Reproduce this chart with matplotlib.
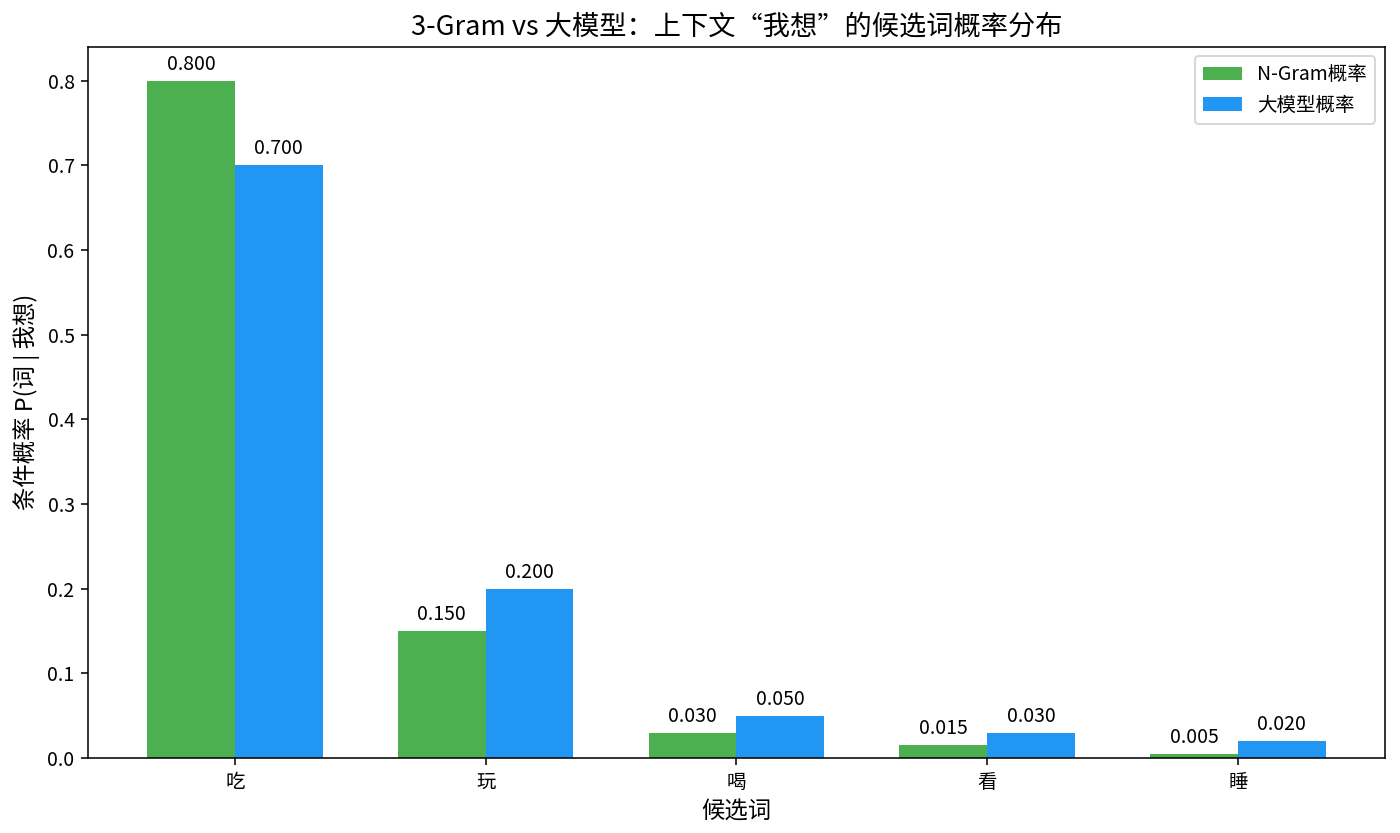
import numpy as np
import matplotlib
matplotlib.use("Agg")
import matplotlib.pyplot as plt

plt.rcParams['font.family'] = ['Noto Sans CJK SC', 'DejaVu Sans']
plt.rcParams['axes.unicode_minus'] = False

# data
candidates = ["吃", "玩", "喝", "看", "睡"]
ngram_prob = [0.800, 0.150, 0.030, 0.015, 0.005]
llm_prob = [0.700, 0.200, 0.050, 0.030, 0.020]

x = np.arange(len(candidates))
width = 0.35

fig, ax = plt.subplots(figsize=(10, 5.95), dpi=140)
bars1 = ax.bar(x - width / 2, ngram_prob, width, label="N-Gram概率", color="#4CAF50")
bars2 = ax.bar(x + width / 2, llm_prob, width, label="大模型概率", color="#2196F3")

for bars in (bars1, bars2):
    for b in bars:
        h = b.get_height()
        ax.annotate(f"{h:.3f}", xy=(b.get_x() + b.get_width() / 2, h),
                    xytext=(0, 3), textcoords="offset points",
                    ha="center", va="bottom", fontsize=10)

ax.set_xticks(x)
ax.set_xticklabels(candidates)
ax.set_xlabel("候选词", fontsize=12)
ax.set_ylabel("条件概率 P(词 | 我想)", fontsize=12)
ax.set_title("3-Gram vs 大模型：上下文“我想”的候选词概率分布", fontsize=14)
ax.set_ylim(0, 0.84)
ax.legend(loc="upper right")

fig.subplots_adjust(left=0.063, right=0.989, top=0.944, bottom=0.090)
fig.savefig("out.png", dpi=140)
